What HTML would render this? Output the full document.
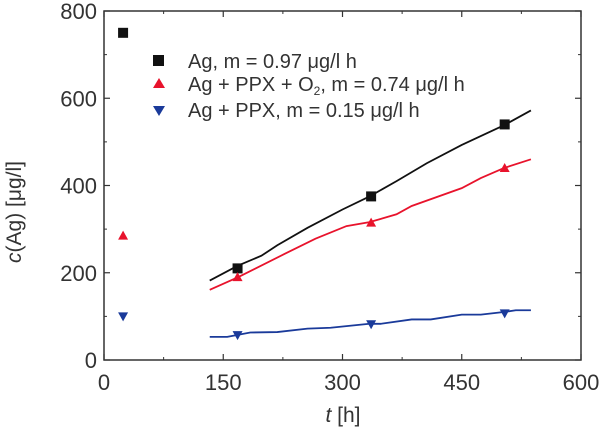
<!DOCTYPE html>
<html><head><meta charset="utf-8"><style>
body{margin:0;background:#fff}
svg text{font-family:"Liberation Sans",sans-serif;fill:#333}
</style></head><body>
<svg width="602" height="430" xmlns="http://www.w3.org/2000/svg">
<g id="axes"></g><g id="plot"></g>
<g>
<rect x="153" y="55" width="11" height="11" fill="#111"/>
<text x="188" y="68" font-size="20">Ag, m = 0.97 μg/l h</text>
<polygon points="159,78 165,88 153,88" fill="#e8132c"/>
<text x="188" y="91" font-size="20">Ag + PPX + O<tspan font-size="12" dy="4">2</tspan><tspan dy="-4">, m = 0.74 μg/l h</tspan></text>
<polygon points="153,106 165,106 159,116" fill="#1a3a9a"/>
<text x="188" y="117" font-size="20">Ag + PPX, m = 0.15 μg/l h</text>
</g>
<text x="343" y="422" font-size="21" text-anchor="middle"><tspan font-style="italic">t</tspan> [h]</text>
<text transform="translate(21,212) rotate(-90)" font-size="21" text-anchor="middle"><tspan font-style="italic">c</tspan>(Ag) [μg/l]</text>
</svg>
<script>
const xTicks=[0,150,300,450,600];
const yTicks=[0,200,400,600,800];
const agPts=[[24,750],[168,210],[336,375],[504,540]];
const o2Pts=[[24,285],[168,190],[336,315],[504,440]];
const ppxPts=[[24,100],[168,57],[336,82],[504,107]];
const agLine=[[133,182],[168,216],[198,239],[218,263],[256,303],[300,345],[334,375],[368,410],[406,451],[450,493],[503,538],[537,572]];
const o2Line=[[133,161],[169,190],[227,243],[266,278],[305,307],[334,316],[368,334],[387,353],[450,394],[474,417],[503,440],[537,460]];
const ppxLine=[[133,53],[155,53],[184,63],[218,64],[256,72],[285,74],[334,83],[348,83],[387,93],[411,93],[450,104],[474,104],[503,110],[518,114],[537,114]];
const X0=104,X1=581,Y0=360,Y1=11;
const sx=v=>X0+(v/600)*(X1-X0), sy=v=>Y0-(v/800)*(Y0-Y1);
const NS="http://www.w3.org/2000/svg";
const ax=document.getElementById('axes'),pl=document.getElementById('plot');
function mk(tag,at,parent){const e=document.createElementNS(NS,tag);for(const k in at)e.setAttribute(k,at[k]);parent.appendChild(e);return e;}
const frame=mk('rect',{x:X0,y:Y1,width:X1-X0,height:Y0-Y1,fill:'none',stroke:'#333','stroke-width':1.5},ax);


for(let i=0;i<xTicks.length;i++){
 const v=xTicks[i],x=sx(v);
 mk('line',{x1:x,y1:Y0,x2:x,y2:Y0-6,stroke:'#333','stroke-width':1.2},ax);
 mk('line',{x1:x,y1:Y1,x2:x,y2:Y1+6,stroke:'#333','stroke-width':1.2},ax);
 if(i<xTicks.length-1){const m=sx(v+75);mk('line',{x1:m,y1:Y0,x2:m,y2:Y0-3,stroke:'#333'},ax);mk('line',{x1:m,y1:Y1,x2:m,y2:Y1+3,stroke:'#333'},ax);}
 const t=mk('text',{x:x,y:Y0+30,'font-size':22,'text-anchor':'middle'},ax);t.textContent=v;
 
 
}
for(let i=0;i<yTicks.length;i++){
 const v=yTicks[i],y=sy(v);
 mk('line',{x1:X0,y1:y,x2:X0+6,y2:y,stroke:'#333','stroke-width':1.2},ax);
 mk('line',{x1:X1,y1:y,x2:X1-6,y2:y,stroke:'#333','stroke-width':1.2},ax);
 if(i<yTicks.length-1){const m=sy(v+100);mk('line',{x1:X0,y1:m,x2:X0+3,y2:m,stroke:'#333'},ax);mk('line',{x1:X1,y1:m,x2:X1-3,y2:m,stroke:'#333'},ax);}
 const t=mk('text',{x:X0-7,y:y+8,'font-size':22,'text-anchor':'end'},ax);t.textContent=v;
 
 
}
function line(data,col,name){const p=mk('polyline',{points:data.map(d=>sx(d[0])+','+sy(d[1])).join(' '),fill:'none',stroke:col,'stroke-width':1.8},pl);
 
 }
line(agLine,'#111','line-ag');line(o2Line,'#e8132c','line-ag-ppx-o2');line(ppxLine,'#1a3a9a','line-ag-ppx');
agPts.forEach(d=>{const r=mk('rect',{x:sx(d[0])-5,y:sy(d[1])-5,width:10,height:10,fill:'#111'},pl);
 
 });
o2Pts.forEach(d=>{const x=sx(d[0]),y=sy(d[1]);const p=mk('polygon',{points:`${x},${y-5} ${x+5},${y+4} ${x-5},${y+4}`,fill:'#e8132c'},pl);
 
 });
ppxPts.forEach(d=>{const x=sx(d[0]),y=sy(d[1]);const p=mk('polygon',{points:`${x-5},${y-4} ${x+5},${y-4} ${x},${y+5}`,fill:'#1a3a9a'},pl);
 
 });
</script>
</body></html>
